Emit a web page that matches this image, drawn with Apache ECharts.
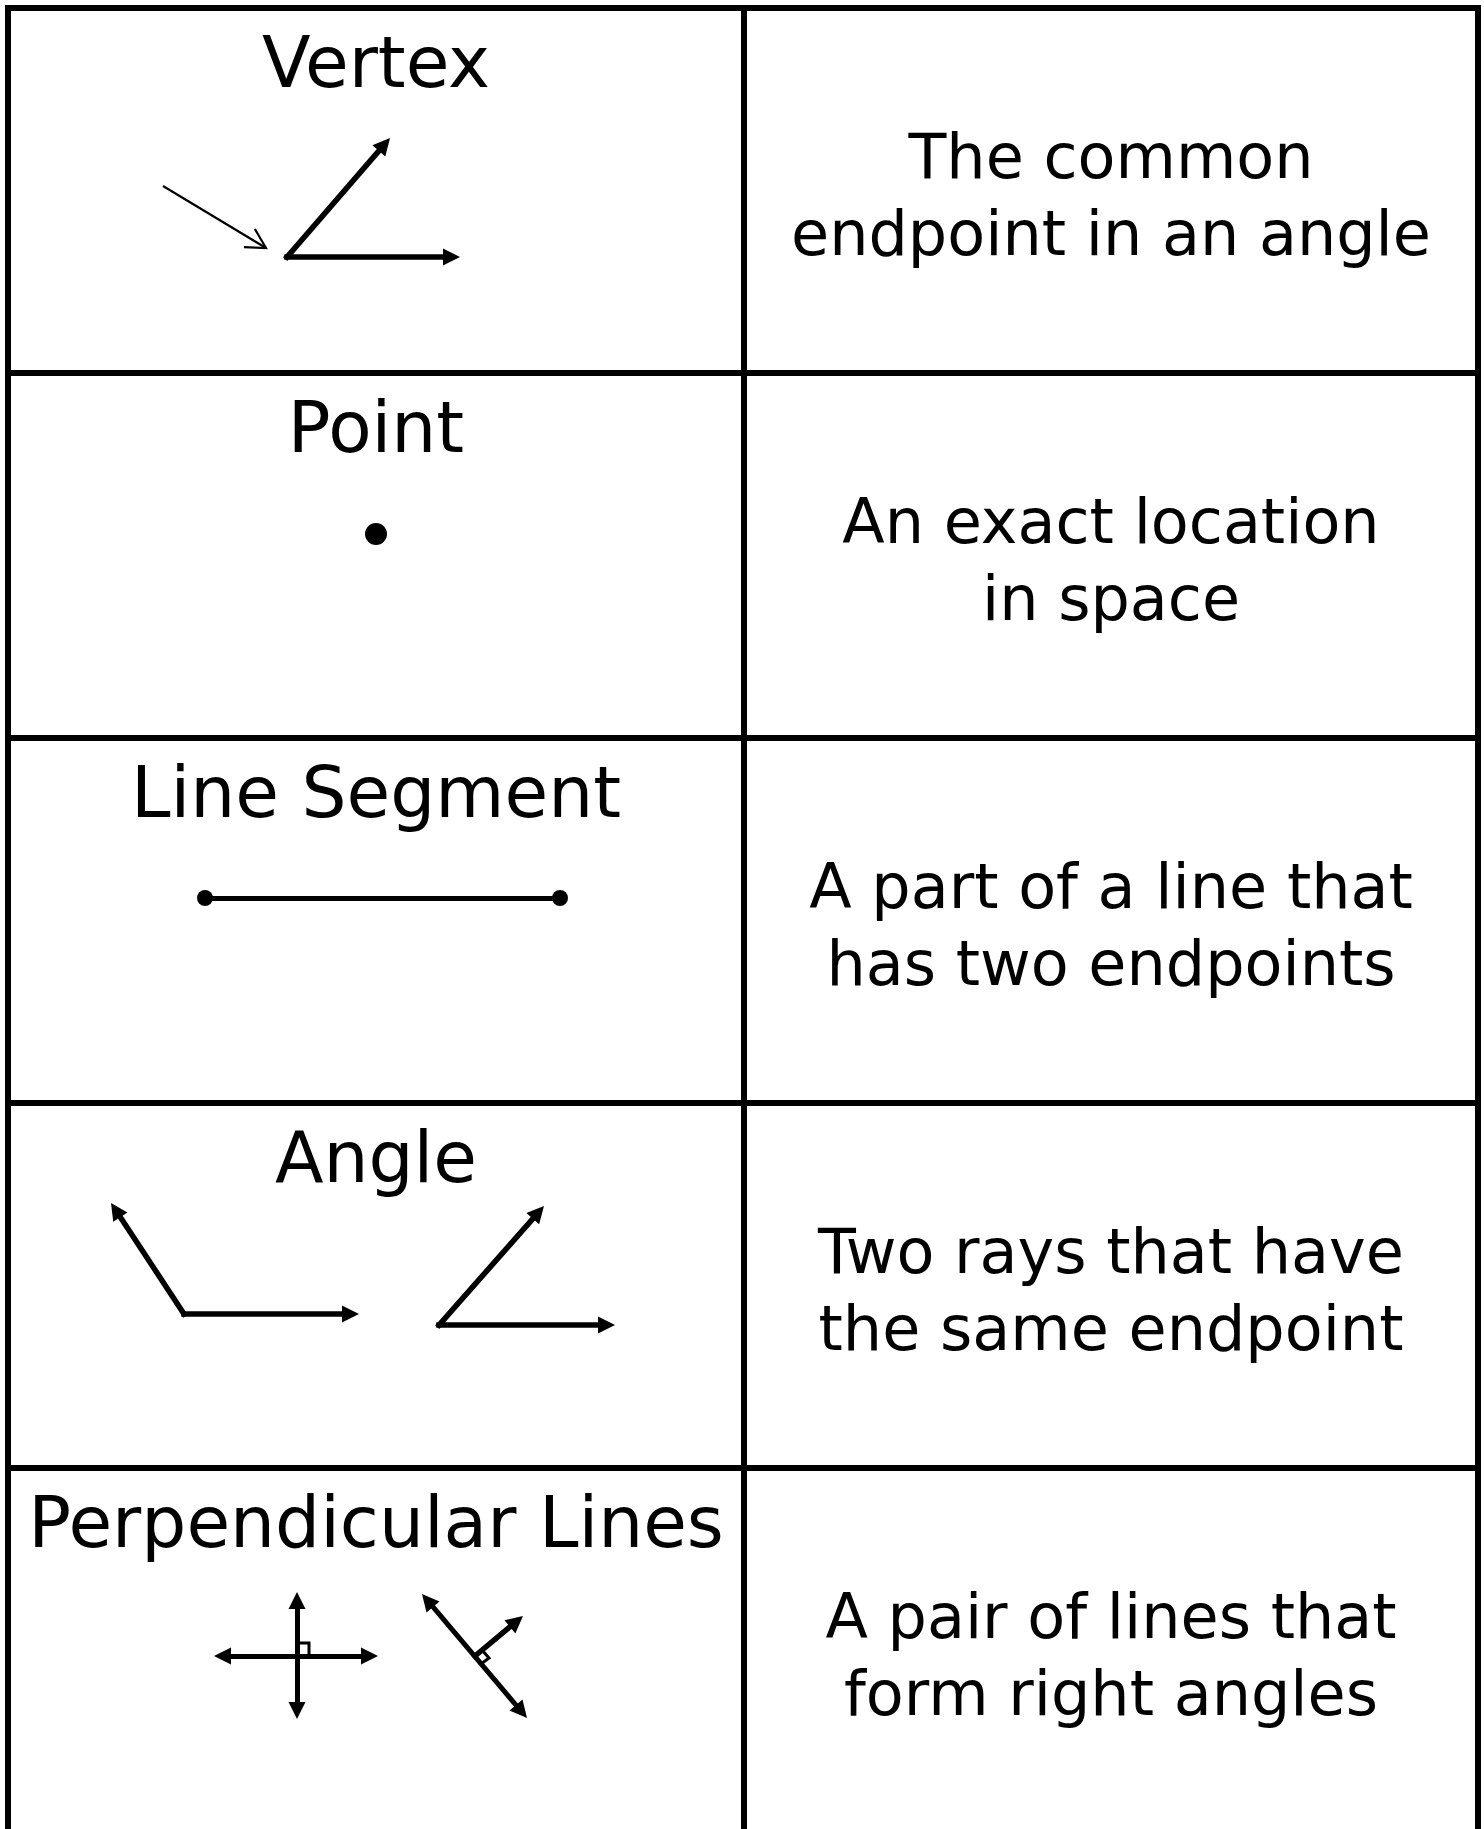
<!DOCTYPE html>
<html>
<head>
<meta charset="utf-8">
<title>Geometry words</title>
<script src="https://cdn.jsdelivr.net/npm/echarts@6/dist/echarts.min.js"></script>
<style>
  html, body { margin: 0; padding: 0; background: #fff; }
  #chart { width: 1484px; height: 1829px; }
</style>
</head>
<body>
<div id="chart"></div>
<script>
// one row per word
const terms = ['Vertex', 'Point', 'Line Segment', 'Angle', 'Perpendicular Lines']
const definitions = [
  'The common\nendpoint in an angle',
  'An exact location\nin space',
  'A part of a line that\nhas two endpoints',
  'Two rays that have\nthe same endpoint',
  'A pair of lines that\nform right angles'
]

// table edges (page units)
const colEdges = [8, 744, 1478]
const rowEdges = [8, 373, 738, 1103, 1468]
const pageBottom = 1829

// drawings: [start, arrow tip]
const rays = [
  [[287, 257], [390, 138]], [[287, 257], [460, 257]], // vertex
  [[184, 1314], [111, 1203]], [[184, 1314], [359, 1314]], // angle 1
  [[439, 1325], [544, 1206]], [[439, 1325], [615, 1325]], // angle 2
  [[475, 1656], [523, 1616]] // perpendicular ray
]
// lines with arrows on both ends
const doubleRays = [
  [[297, 1592], [297, 1719]],
  [[214, 1656], [378, 1656]],
  [[422, 1594], [527, 1718]]
]
const pointer = [[163, 186], [266, 248]]
const segment = [[205, 898], [560, 898]]
const segmentEnds = [[205, 898], [560, 898]]
const points = [[376, 534]]
const rightAngleMarks = [
  [[297, 1643], [309, 1643], [309, 1655]],
  [[482, 1650], [489, 1658], [481, 1664]]
]

const chart = echarts.init(document.getElementById('chart'))

const ARROW = 17
// move the line end back so the arrow tip sits on the read tip
function pull (from, tip, d) {
  const dx = tip[0] - from[0]
  const dy = tip[1] - from[1]
  const len = Math.hypot(dx, dy)
  return [tip[0] - dx / len * d, tip[1] - dy / len * d]
}

// open arrow head of the pointer
const pAng = Math.atan2(pointer[0][1] - pointer[1][1], pointer[0][0] - pointer[1][0])
const arm = a => [pointer[1][0] + 22 * Math.cos(pAng + a), pointer[1][1] + 22 * Math.sin(pAng + a)]

// table borders
const borders = []
colEdges.forEach(x => borders.push({ coords: [[x, rowEdges[0]], [x, pageBottom + 10]] }))
rowEdges.forEach(y => borders.push({ coords: [[colEdges[0], y], [colEdges[2], y]] }))

const black = '#000'
const leftMid = (colEdges[0] + colEdges[1]) / 2
const rightMid = (colEdges[1] + colEdges[2]) / 2

chart.setOption({
  animation: false,
  grid: { left: 0, right: 0, top: 0, bottom: 0 },
  xAxis: { type: 'value', min: 0, max: 1484, show: false },
  yAxis: { type: 'value', min: 0, max: pageBottom, inverse: true, show: false },
  series: [
    {
      type: 'lines',
      coordinateSystem: 'cartesian2d',
      silent: true,
      symbol: 'none',
      lineStyle: { color: black, width: 6, opacity: 1, cap: 'square' },
      data: borders
    },
    {
      type: 'lines',
      coordinateSystem: 'cartesian2d',
      silent: true,
      symbol: ['none', 'triangle'],
      symbolSize: ARROW,
      lineStyle: { color: black, width: 5.5, opacity: 1, cap: 'square' },
      data: rays.map(r => ({ coords: [r[0], pull(r[0], r[1], ARROW / 2)] }))
    },
    {
      type: 'lines',
      coordinateSystem: 'cartesian2d',
      silent: true,
      symbol: ['triangle', 'triangle'],
      symbolSize: ARROW,
      lineStyle: { color: black, width: 5, opacity: 1 },
      data: doubleRays.map(r => ({ coords: [pull(r[1], r[0], ARROW / 2), pull(r[0], r[1], ARROW / 2)] }))
    },
    {
      type: 'lines',
      coordinateSystem: 'cartesian2d',
      silent: true,
      polyline: true,
      symbol: 'none',
      lineStyle: { color: black, width: 2.2, opacity: 1 },
      data: [{ coords: pointer }, { coords: [arm(0.5), pointer[1], arm(-0.5)] }]
    },
    {
      type: 'lines',
      coordinateSystem: 'cartesian2d',
      silent: true,
      symbol: 'none',
      lineStyle: { color: black, width: 5, opacity: 1 },
      data: [{ coords: segment }]
    },
    {
      type: 'lines',
      coordinateSystem: 'cartesian2d',
      silent: true,
      polyline: true,
      symbol: 'none',
      lineStyle: { color: black, width: 3, opacity: 1 },
      data: rightAngleMarks.map(m => ({ coords: m }))
    },
    {
      type: 'scatter',
      silent: true,
      symbolSize: 16,
      itemStyle: { color: black, opacity: 1 },
      data: segmentEnds
    },
    {
      type: 'scatter',
      silent: true,
      symbolSize: 22,
      itemStyle: { color: black, opacity: 1 },
      data: points
    }
  ]
})

// words and definitions, placed through the same axes
const texts = []
terms.forEach((t, i) => {
  const p = chart.convertToPixel({ gridIndex: 0 }, [leftMid, rowEdges[i] + 61])
  texts.push({
    type: 'text',
    x: p[0],
    y: p[1],
    silent: true,
    style: {
      text: t,
      fill: black,
      font: '71px "DejaVu Sans"',
      align: 'center',
      verticalAlign: 'middle'
    }
  })
})
definitions.forEach((d, i) => {
  const p = chart.convertToPixel({ gridIndex: 0 }, [rightMid, rowEdges[i] + 192])
  texts.push({
    type: 'text',
    x: p[0],
    y: p[1],
    silent: true,
    style: {
      text: d,
      fill: black,
      font: '62px "DejaVu Sans"',
      lineHeight: 77,
      align: 'center',
      verticalAlign: 'middle'
    }
  })
})
chart.setOption({ graphic: texts })
</script>
</body>
</html>
